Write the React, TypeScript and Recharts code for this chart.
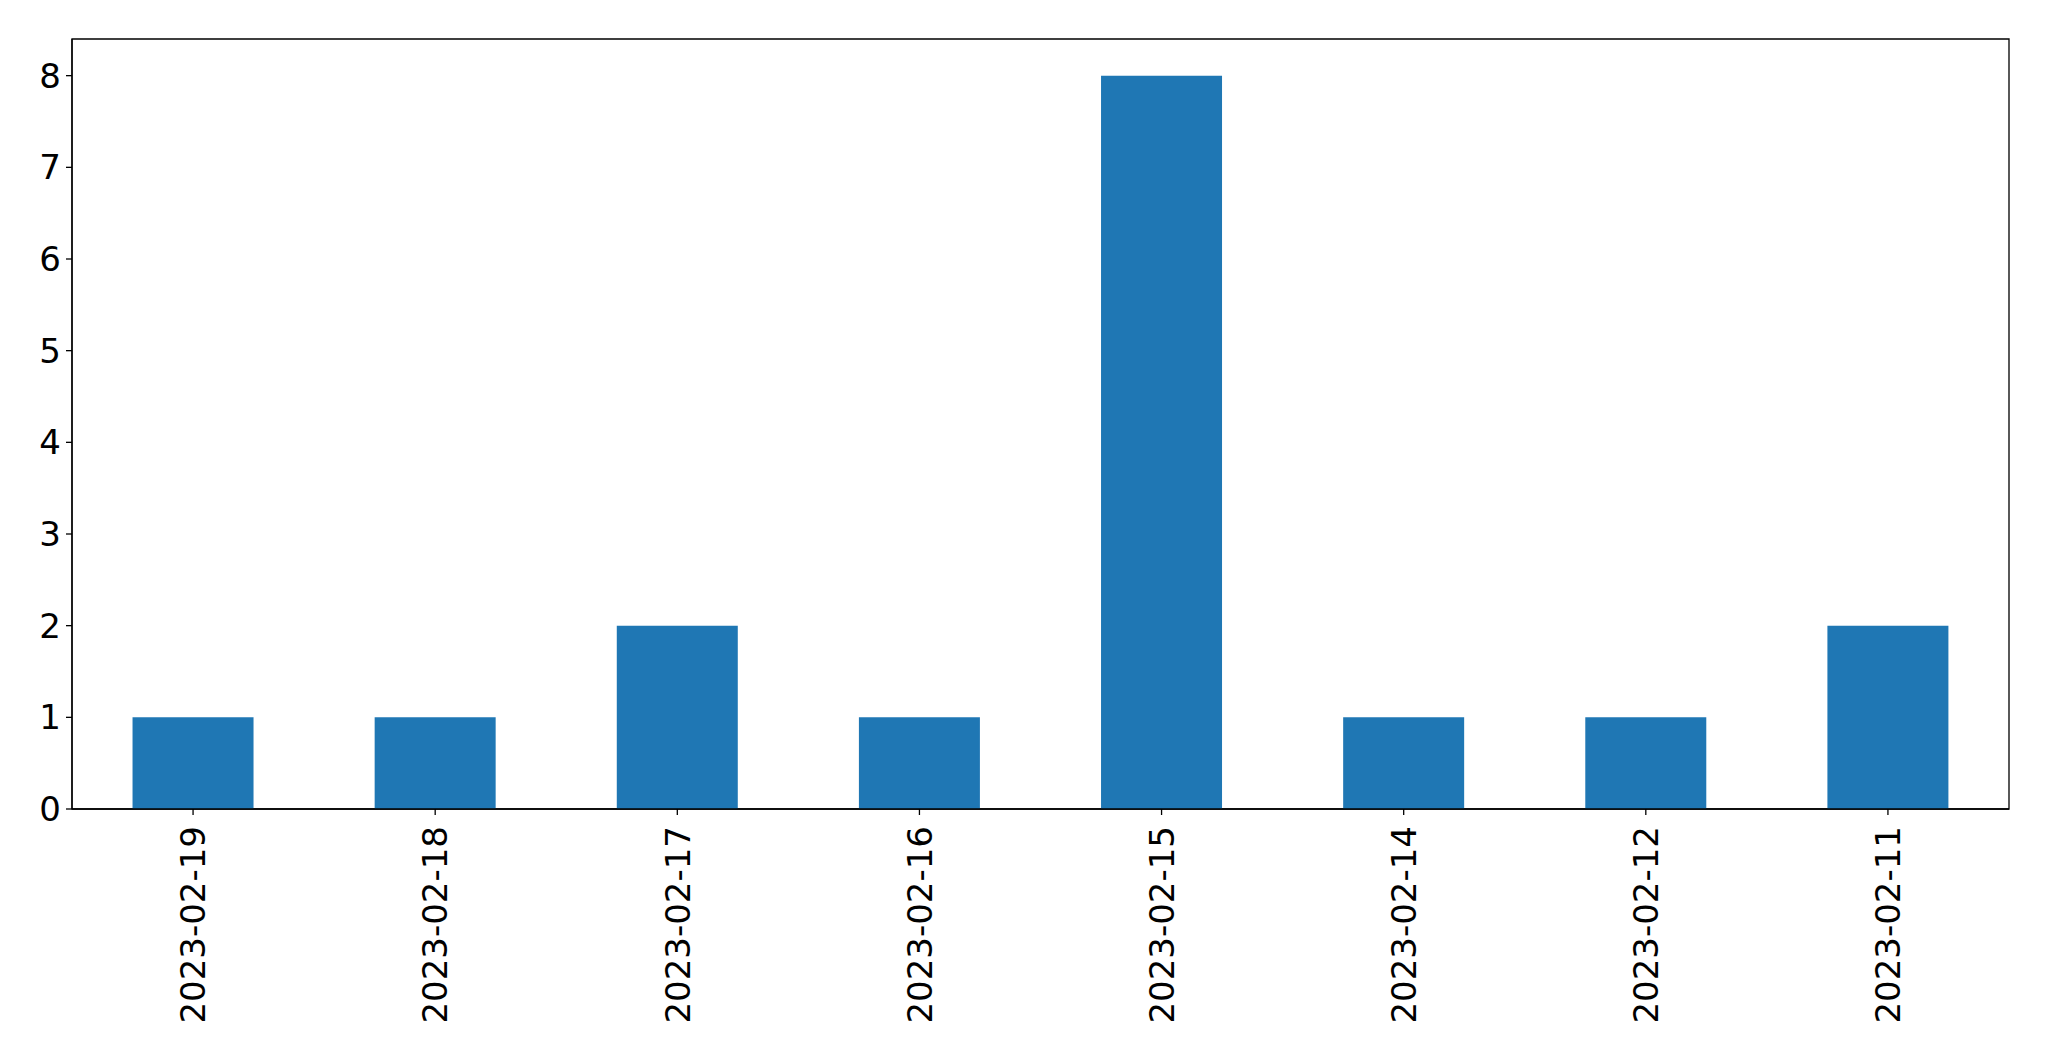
import React from 'react';
import { BarChart, Bar, XAxis, YAxis, ReferenceArea } from 'recharts';

const dates = [
  '2023-02-19',
  '2023-02-18',
  '2023-02-17',
  '2023-02-16',
  '2023-02-15',
  '2023-02-14',
  '2023-02-12',
  '2023-02-11',
];
const counts = [1, 1, 2, 1, 8, 1, 1, 2];
const yTicks = [0, 1, 2, 3, 4, 5, 6, 7, 8];

const font = 'DejaVu Sans, sans-serif';

const data = dates.map((d, i) => ({ date: d, count: counts[i] }));

function DateTick({ x, y, payload }: any) {
  return (
    <text
      x={x}
      y={y}
      transform={`rotate(-90, ${x}, ${y})`}
      textAnchor="end"
      dy="0.36em"
      fontFamily={font}
      fontSize={34}
      fill="#000"
    >
      {payload.value}
    </text>
  );
}

export default function App() {
  return (
    <div style={{ position: 'absolute', left: 0, top: 0, background: '#fff' }}>
      <BarChart
        width={2049}
        height={1061}
        data={data}
        margin={{ top: 39, right: 40, bottom: 0, left: 0 }}
        barCategoryGap="25%"
      >
        <ReferenceArea
          y1={0}
          y2={8.4}
          fill="none"
          stroke="#000"
          strokeWidth={1.3}
          ifOverflow="visible"
        />
        <XAxis
          dataKey="date"
          height={252}
          interval={0}
          tickSize={6}
          tickMargin={11}
          tick={<DateTick />}
          axisLine={{ stroke: '#000', strokeWidth: 1.3 }}
          tickLine={{ stroke: '#000', strokeWidth: 1.3 }}
        />
        <YAxis
          width={72}
          domain={[0, 8.4]}
          ticks={yTicks}
          interval={0}
          tickSize={6}
          tickMargin={5}
          axisLine={{ stroke: '#000', strokeWidth: 1.3 }}
          tickLine={{ stroke: '#000', strokeWidth: 1.3 }}
          tick={{ fill: '#000', fontSize: 34, fontFamily: font }}
        />
        <Bar dataKey="count" fill="#1f77b4" isAnimationActive={false} />
      </BarChart>
    </div>
  );
}
